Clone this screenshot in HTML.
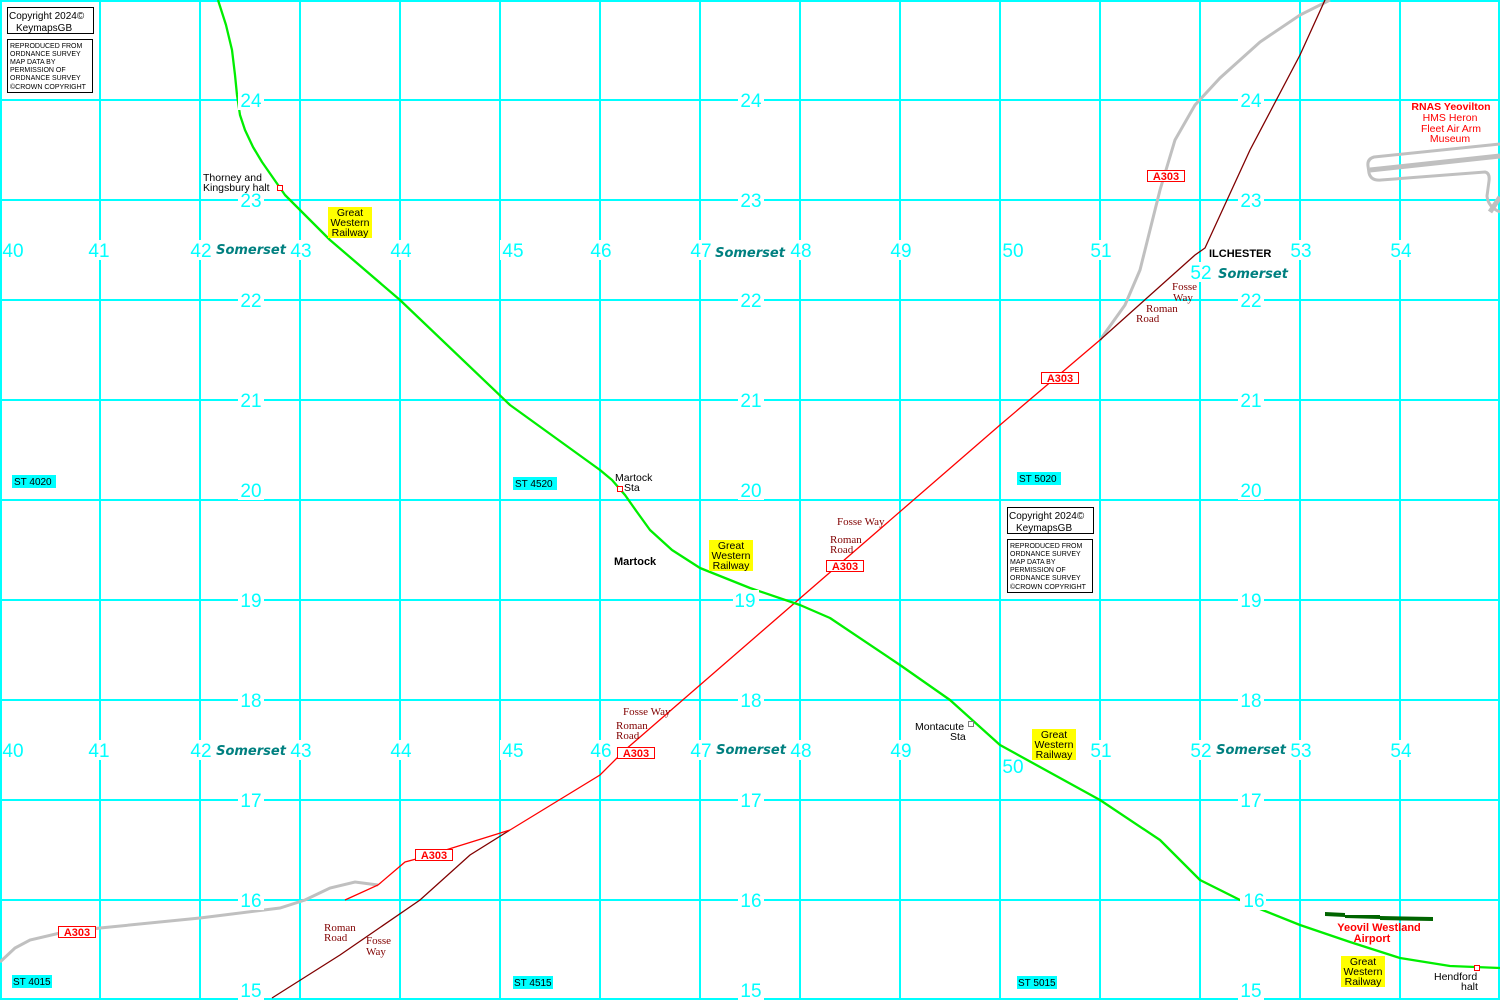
<!DOCTYPE html>
<html><head><meta charset="utf-8"><style>
html,body{margin:0;padding:0;background:#fff;}
svg{display:block;}
.n{font-family:"Liberation Sans",sans-serif;font-size:19px;fill:#00ffff;text-anchor:middle;}
.s{font-family:"DejaVu Sans",sans-serif;font-size:13px;font-weight:bold;font-style:italic;fill:#008080;text-anchor:middle;}
.t{font-family:"Liberation Sans",sans-serif;font-size:10.5px;fill:#000;}
.r{font-family:"Liberation Serif",serif;font-size:11px;fill:#800000;}
.gw{font-family:"Liberation Sans",sans-serif;font-size:10.5px;fill:#000;text-anchor:middle;}
.a{font-family:"Liberation Sans",sans-serif;font-size:11px;font-weight:bold;fill:#f00;text-anchor:middle;}
.st{font-family:"Liberation Sans",sans-serif;font-size:10px;fill:#000;}
.c{font-family:"Liberation Sans",sans-serif;font-size:7px;fill:#000;}
</style></head><body>
<svg width="1500" height="1000" xmlns="http://www.w3.org/2000/svg">
<rect width="1500" height="1000" fill="#fff"/>
<g stroke="#00ffff" stroke-width="2">
<line x1="1" y1="0" x2="1" y2="1000"/><line x1="100" y1="0" x2="100" y2="1000"/><line x1="200" y1="0" x2="200" y2="1000"/><line x1="300" y1="0" x2="300" y2="1000"/><line x1="400" y1="0" x2="400" y2="1000"/><line x1="500" y1="0" x2="500" y2="1000"/><line x1="600" y1="0" x2="600" y2="1000"/><line x1="700" y1="0" x2="700" y2="1000"/><line x1="800" y1="0" x2="800" y2="1000"/><line x1="900" y1="0" x2="900" y2="1000"/><line x1="1000" y1="0" x2="1000" y2="1000"/><line x1="1100" y1="0" x2="1100" y2="1000"/><line x1="1200" y1="0" x2="1200" y2="1000"/><line x1="1300" y1="0" x2="1300" y2="1000"/><line x1="1400" y1="0" x2="1400" y2="1000"/><line x1="1499" y1="0" x2="1499" y2="1000"/>
<line x1="0" y1="1" x2="1500" y2="1"/><line x1="0" y1="100" x2="1500" y2="100"/><line x1="0" y1="200" x2="1500" y2="200"/><line x1="0" y1="300" x2="1500" y2="300"/><line x1="0" y1="400" x2="1500" y2="400"/><line x1="0" y1="500" x2="1500" y2="500"/><line x1="0" y1="600" x2="1500" y2="600"/><line x1="0" y1="700" x2="1500" y2="700"/><line x1="0" y1="800" x2="1500" y2="800"/><line x1="0" y1="900" x2="1500" y2="900"/><line x1="0" y1="999" x2="1500" y2="999"/>
</g>
<g fill="none" stroke="#c0c0c0" stroke-width="3">
<polyline points="0,962 15,948 30,940 60,933 100,928 200,918 280,908 305,900 330,888 355,882 378,885"/>
<polyline points="1100,340 1125,305 1140,270 1150,230 1160,190 1175,140 1195,105 1220,78 1260,42 1300,15 1330,0"/>
<path d="M1500,144 L1374,157 Q1367,159 1368,166 L1369,173 Q1371,181 1381,180 L1485,172 Q1490,173 1489,181 L1487,196 Q1488,207 1500,212" />
</g>
<polyline points="1370,170 1500,156" stroke="#c0c0c0" stroke-width="5" fill="none"/>
<polyline points="1490,212 1500,197" stroke="#c0c0c0" stroke-width="5" fill="none"/>
<polyline points="272,998 340,955 420,900 470,855 510,830" stroke="#800000" stroke-width="1.3" fill="none"/>
<polyline points="345,900 378,885 405,862 420,858 510,830" stroke="#f00" stroke-width="1.3" fill="none"/>
<polyline points="510,830 600,775 625,750 1000,425 1100,340" stroke="#f00" stroke-width="1.3" fill="none"/>
<polyline points="1100,340 1195,255 1205,248 1250,150 1300,55 1325,0" stroke="#800000" stroke-width="1.3" fill="none"/>
<polyline points="218,0 226,25 232,50 235,75 237,95 240,115 245,130 253,147 262,162 285,195 330,240 400,300 510,405 600,470 612,480 625,495 637,512 650,530 672,550 700,568 750,588 800,605 830,618 900,665 950,700 1000,745 1100,800 1160,840 1200,880 1250,905 1300,925 1350,942 1400,958 1450,966 1500,968" stroke="#00ee00" stroke-width="2.3" fill="none" stroke-linejoin="round"/>
<polygon points="1325,912 1345,913 1345,915 1380,915 1380,916 1433,917 1433,921 1380,920 1380,919 1345,918 1345,917 1325,916" fill="#006400"/>
<g fill="#fff" stroke="#f00" stroke-width="1"><rect x="277.5" y="185.5" width="5" height="5"/><rect x="617.5" y="486.5" width="5" height="5"/><rect x="968.5" y="721.5" width="5" height="5" stroke="#808080"/><rect x="1474.5" y="965.5" width="5" height="5"/></g>
<g>
<g fill="#fff">
<rect x="238" y="90" width="26" height="20"/><rect x="738" y="90" width="26" height="20"/><rect x="1238" y="90" width="26" height="20"/>
<rect x="238" y="190" width="26" height="20"/><rect x="738" y="190" width="26" height="20"/><rect x="1238" y="190" width="26" height="20"/>
<rect x="238" y="290" width="26" height="20"/><rect x="738" y="290" width="26" height="20"/><rect x="1238" y="290" width="26" height="20"/>
<rect x="238" y="390" width="26" height="20"/><rect x="738" y="390" width="26" height="20"/><rect x="1238" y="390" width="26" height="20"/>
<rect x="238" y="480" width="26" height="20"/><rect x="738" y="480" width="26" height="20"/><rect x="1238" y="480" width="26" height="20"/>
<rect x="238" y="590" width="26" height="20"/><rect x="733" y="590" width="26" height="20"/><rect x="1238" y="590" width="26" height="20"/>
<rect x="238" y="690" width="26" height="20"/><rect x="738" y="690" width="26" height="20"/><rect x="1238" y="690" width="26" height="20"/>
<rect x="238" y="790" width="26" height="20"/><rect x="738" y="790" width="26" height="20"/><rect x="1238" y="790" width="26" height="20"/>
<rect x="238" y="890" width="26" height="20"/><rect x="738" y="890" width="26" height="20"/><rect x="1240" y="890" width="26" height="20"/>
<rect x="238" y="980" width="26" height="20"/><rect x="738" y="980" width="26" height="20"/><rect x="1238" y="980" width="26" height="20"/>
<rect x="188" y="240" width="26" height="20"/><rect x="288" y="240" width="26" height="20"/><rect x="388" y="240" width="26" height="20"/><rect x="500" y="240" width="26" height="20"/><rect x="588" y="240" width="26" height="20"/><rect x="688" y="240" width="26" height="20"/><rect x="788" y="240" width="26" height="20"/><rect x="888" y="240" width="26" height="20"/><rect x="1088" y="240" width="26" height="20"/><rect x="1288" y="240" width="26" height="20"/><rect x="1388" y="240" width="26" height="20"/><rect x="88" y="240" width="22" height="20"/><rect x="1188" y="262" width="26" height="20"/>
<rect x="188" y="740" width="26" height="20"/><rect x="288" y="740" width="26" height="20"/><rect x="388" y="740" width="26" height="20"/><rect x="500" y="740" width="26" height="20"/><rect x="588" y="740" width="26" height="20"/><rect x="688" y="740" width="26" height="20"/><rect x="788" y="740" width="26" height="20"/><rect x="888" y="740" width="26" height="20"/><rect x="1088" y="740" width="26" height="20"/><rect x="1188" y="740" width="26" height="20"/><rect x="1288" y="740" width="26" height="20"/><rect x="1388" y="740" width="26" height="20"/><rect x="88" y="740" width="22" height="20"/>
</g>
<text class="n" x="251" y="107">24</text><text class="n" x="751" y="107">24</text><text class="n" x="1251" y="107">24</text>
<text class="n" x="251" y="207">23</text><text class="n" x="751" y="207">23</text><text class="n" x="1251" y="207">23</text>
<text class="n" x="251" y="307">22</text><text class="n" x="751" y="307">22</text><text class="n" x="1251" y="307">22</text>
<text class="n" x="251" y="407">21</text><text class="n" x="751" y="407">21</text><text class="n" x="1251" y="407">21</text>
<text class="n" x="251" y="497">20</text><text class="n" x="751" y="497">20</text><text class="n" x="1251" y="497">20</text>
<text class="n" x="251" y="607">19</text><text class="n" x="745" y="607">19</text><text class="n" x="1251" y="607">19</text>
<text class="n" x="251" y="707">18</text><text class="n" x="751" y="707">18</text><text class="n" x="1251" y="707">18</text>
<text class="n" x="251" y="807">17</text><text class="n" x="751" y="807">17</text><text class="n" x="1251" y="807">17</text>
<text class="n" x="251" y="907">16</text><text class="n" x="751" y="907">16</text><text class="n" x="1254" y="907">16</text>
<text class="n" x="251" y="997">15</text><text class="n" x="751" y="997">15</text><text class="n" x="1251" y="997">15</text>
<text class="n" x="13" y="257">40</text><text class="n" x="99" y="257">41</text><text class="n" x="201" y="257">42</text><text class="n" x="301" y="257">43</text><text class="n" x="401" y="257">44</text><text class="n" x="513" y="257">45</text><text class="n" x="601" y="257">46</text><text class="n" x="701" y="257">47</text><text class="n" x="801" y="257">48</text><text class="n" x="901" y="257">49</text><text class="n" x="1013" y="257">50</text><text class="n" x="1101" y="257">51</text><text class="n" x="1201" y="279">52</text><text class="n" x="1301" y="257">53</text><text class="n" x="1401" y="257">54</text>
<text class="n" x="13" y="757">40</text><text class="n" x="99" y="757">41</text><text class="n" x="201" y="757">42</text><text class="n" x="301" y="757">43</text><text class="n" x="401" y="757">44</text><text class="n" x="513" y="757">45</text><text class="n" x="601" y="757">46</text><text class="n" x="701" y="757">47</text><text class="n" x="801" y="757">48</text><text class="n" x="901" y="757">49</text><text class="n" x="1013" y="773">50</text><text class="n" x="1101" y="757">51</text><text class="n" x="1201" y="757">52</text><text class="n" x="1301" y="757">53</text><text class="n" x="1401" y="757">54</text>
</g>
<g>
<text class="s" x="251" y="254">Somerset</text><text class="s" x="750" y="257">Somerset</text><text class="s" x="1253" y="278">Somerset</text>
<text class="s" x="251" y="755">Somerset</text><text class="s" x="751" y="754">Somerset</text><text class="s" x="1251" y="754">Somerset</text>
</g>
<g>
<rect x="12" y="475" width="44" height="13" fill="#00ffff"/><text class="st" x="14" y="485">ST 4020</text>
<rect x="513" y="477" width="44" height="13" fill="#00ffff"/><text class="st" x="515" y="487">ST 4520</text>
<rect x="1017" y="472" width="44" height="13" fill="#00ffff"/><text class="st" x="1019" y="482">ST 5020</text>
<rect x="12" y="975" width="40" height="13" fill="#00ffff"/><text class="st" x="13" y="985">ST 4015</text>
<rect x="513" y="976" width="40" height="13" fill="#00ffff"/><text class="st" x="514" y="986">ST 4515</text>
<rect x="1017" y="976" width="40" height="13" fill="#00ffff"/><text class="st" x="1018" y="986">ST 5015</text>
</g>
<g>
<rect x="328" y="207" width="44" height="31" fill="#ff0"/><text class="gw" x="350" y="216">Great</text><text class="gw" x="350" y="226">Western</text><text class="gw" x="350" y="236">Railway</text>
<rect x="709" y="540" width="44" height="31" fill="#ff0"/><text class="gw" x="731" y="549">Great</text><text class="gw" x="731" y="559">Western</text><text class="gw" x="731" y="569">Railway</text>
<rect x="1032" y="729" width="44" height="31" fill="#ff0"/><text class="gw" x="1054" y="738">Great</text><text class="gw" x="1054" y="748">Western</text><text class="gw" x="1054" y="758">Railway</text>
<rect x="1341" y="956" width="44" height="31" fill="#ff0"/><text class="gw" x="1363" y="965">Great</text><text class="gw" x="1363" y="975">Western</text><text class="gw" x="1363" y="985">Railway</text>
</g>
<g fill="#fff" stroke="#f00" stroke-width="1">
<rect x="1147.5" y="170.5" width="37" height="11"/><rect x="1041.5" y="372.5" width="37" height="11"/><rect x="826.5" y="560.5" width="37" height="11"/><rect x="617.5" y="747.5" width="37" height="11"/><rect x="415.5" y="849.5" width="37" height="11"/><rect x="58.5" y="926.5" width="37" height="11"/>
</g>
<text class="a" x="1166" y="180">A303</text><text class="a" x="1060" y="382">A303</text><text class="a" x="845" y="570">A303</text><text class="a" x="636" y="757">A303</text><text class="a" x="434" y="859">A303</text><text class="a" x="77" y="936">A303</text>
<g class="r">
<text x="1172" y="290">Fosse</text><text x="1173" y="301">Way</text>
<text x="1146" y="312">Roman</text><text x="1136" y="322">Road</text>
<text x="837" y="525">Fosse Way</text><text x="830" y="543">Roman</text><text x="830" y="553">Road</text>
<text x="623" y="715">Fosse Way</text><text x="616" y="729">Roman</text><text x="616" y="739">Road</text>
<text x="324" y="931">Roman</text><text x="324" y="941">Road</text><text x="366" y="944">Fosse</text><text x="366" y="955">Way</text>
</g>
<g class="t">
<text x="203" y="181">Thorney and</text><text x="203" y="191">Kingsbury halt</text>
<text x="615" y="481">Martock</text><text x="624" y="491">Sta</text>
<text x="915" y="730">Montacute</text><text x="950" y="740">Sta</text>
<text x="1434" y="980">Hendford</text><text x="1461" y="990">halt</text>
</g>
<text x="614" y="565" font-family="Liberation Sans,sans-serif" font-size="11" font-weight="bold">Martock</text>
<text x="1209" y="257" font-family="Liberation Sans,sans-serif" font-size="11" font-weight="bold">ILCHESTER</text>
<g font-family="Liberation Sans,sans-serif" font-size="10.5" fill="#f00" text-anchor="middle">
<text x="1451" y="110" font-weight="bold">RNAS Yeovilton</text><text x="1450" y="121">HMS Heron</text><text x="1451" y="132">Fleet Air Arm</text><text x="1450" y="142">Museum</text>
</g>
<g font-family="Liberation Sans,sans-serif" font-size="11" font-weight="bold" fill="#f00" text-anchor="middle">
<text x="1379" y="931">Yeovil Westland</text><text x="1372" y="942">Airport</text>
</g>
<g>
<rect x="7.5" y="7.5" width="86" height="26" fill="#fff" stroke="#000"/>
<text x="9" y="19" font-family="Liberation Sans,sans-serif" font-size="10">Copyright 2024©</text>
<text x="16" y="31" font-family="Liberation Sans,sans-serif" font-size="10">KeymapsGB</text>
<rect x="7.5" y="39.5" width="85" height="53" fill="#fff" stroke="#000"/>
<g class="c"><text x="10" y="48">REPRODUCED FROM</text><text x="10" y="56">ORDNANCE SURVEY</text><text x="10" y="64">MAP DATA BY</text><text x="10" y="72">PERMISSION OF</text><text x="10" y="80">ORDNANCE SURVEY</text><text x="10" y="89">©CROWN COPYRIGHT</text></g>
</g>
<g transform="translate(1000,500)">
<rect x="7.5" y="7.5" width="86" height="26" fill="#fff" stroke="#000"/>
<text x="9" y="19" font-family="Liberation Sans,sans-serif" font-size="10">Copyright 2024©</text>
<text x="16" y="31" font-family="Liberation Sans,sans-serif" font-size="10">KeymapsGB</text>
<rect x="7.5" y="39.5" width="85" height="53" fill="#fff" stroke="#000"/>
<g class="c"><text x="10" y="48">REPRODUCED FROM</text><text x="10" y="56">ORDNANCE SURVEY</text><text x="10" y="64">MAP DATA BY</text><text x="10" y="72">PERMISSION OF</text><text x="10" y="80">ORDNANCE SURVEY</text><text x="10" y="89">©CROWN COPYRIGHT</text></g>
</g>
</svg>
</body></html>
